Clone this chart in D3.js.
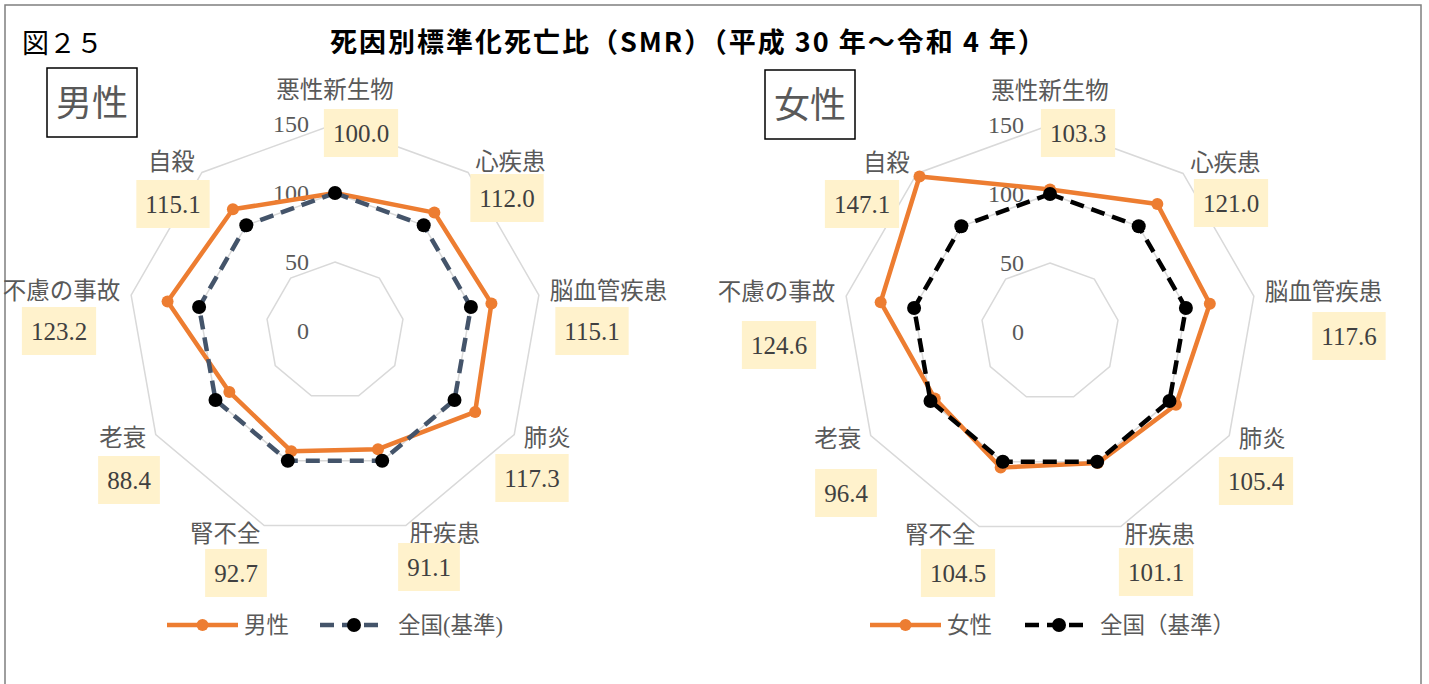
<!DOCTYPE html>
<html lang="ja">
<head>
<meta charset="utf-8">
<script src="https://cdn.jsdelivr.net/npm/d3@7"></script>
<style>
  html, body { margin: 0; padding: 0; background: #fff; }
  svg { display: block; }
</style>
</head>
<body>
<div id="chart"></div>
<script>
// 死因（時計回り、上から）
const categories = ["悪性新生物", "心疾患", "脳血管疾患", "肺炎", "肝疾患", "腎不全", "老衰", "不慮の事故", "自殺"];
const maleValues = [100.0, 112.0, 115.1, 117.3, 91.1, 92.7, 88.4, 123.2, 115.1];
const femaleValues = [103.3, 121.0, 117.6, 105.4, 101.1, 104.5, 96.4, 124.6, 147.1];
const nationalValues = [100, 100, 100, 100, 100, 100, 100, 100, 100];
const ticks = [0, 50, 100, 150];

// ラベル枠の位置（中心からのずれ、レイアウト用）
const maleBoxOffsets = [[26, -198], [172, -133], [257, 0], [197, 147], [94, 236], [-99, 242], [-206, 149], [-276, 0], [-162, -127]];
const femaleBoxOffsets = [[28, -199], [181, -129], [299, 4], [206, 149], [106, 240], [-92, 241], [-204, 161], [-271, 13], [-188, -128]];

const width = 1429, height = 684;
const serif = "'Liberation Serif', 'Noto Sans CJK JP', serif";
const gothic = "'Noto Sans CJK JP', sans-serif";
const gray = "#595959";
const orange = "#ED7D31";

const svg = d3.select("#chart").append("svg")
    .attr("width", width)
    .attr("height", height);

// 外枠
svg.append("rect")
    .attr("x", 5).attr("y", 5)
    .attr("width", 1416).attr("height", 700)
    .attr("fill", "none")
    .attr("stroke", "#7f7f7f")
    .attr("stroke-width", 1.5);

svg.append("text")
    .attr("x", 22).attr("y", 53)
    .attr("font-family", gothic)
    .attr("font-size", 27)
    .attr("fill", "#000")
    .text("図２５");

svg.append("text")
    .attr("x", 330).attr("y", 52)
    .attr("font-family", gothic)
    .attr("font-weight", "bold")
    .attr("font-size", 27)
    .attr("textLength", 715)
    .attr("lengthAdjust", "spacing")
    .attr("fill", "#000")
    .text("死因別標準化死亡比（SMR）（平成 30 年～令和 4 年）");

const r = d3.scaleLinear().domain([0, 150]).range([0, 207]);
const angle = i => i * 2 * Math.PI / categories.length;

function drawRadar(opt) {
    const g = svg.append("g")
        .attr("transform", `translate(${opt.cx},${opt.cy})`);

    // 目盛りの多角形
    const ring = d3.lineRadial()
        .angle((d, i) => angle(i))
        .radius(d => r(d))
        .curve(d3.curveLinearClosed);

    ticks.filter(t => t > 0).forEach(t => {
        g.append("path")
            .attr("d", ring(categories.map(() => t)))
            .attr("fill", "none")
            .attr("stroke", "#d9d9d9")
            .attr("stroke-width", 1.5);
    });

    // 目盛りラベル
    g.selectAll(".tick")
        .data(ticks)
        .enter()
        .append("text")
        .attr("x", -26)
        .attr("y", d => -r(d))
        .attr("dy", "0.35em")
        .attr("text-anchor", "end")
        .attr("font-family", serif)
        .attr("font-size", 24)
        .attr("fill", gray)
        .text(d => d);

    // 系列
    const pointX = (v, i) => r(v) * Math.sin(angle(i));
    const pointY = (v, i) => -r(v) * Math.cos(angle(i));

    const series = [
        { values: opt.values, color: orange, dash: null, marker: orange, mr: 6 },
        { values: nationalValues, color: opt.natColor, dash: "14,8", marker: "#000", mr: 7 }
    ];

    series.forEach(s => {
        g.append("path")
            .attr("d", ring(s.values))
            .attr("fill", "none")
            .attr("stroke", s.color)
            .attr("stroke-width", 4.5)
            .attr("stroke-dasharray", s.dash)
            .attr("stroke-linejoin", "round");

        g.selectAll(null)
            .data(s.values)
            .enter()
            .append("circle")
            .attr("cx", (d, i) => pointX(d, i))
            .attr("cy", (d, i) => pointY(d, i))
            .attr("r", s.mr)
            .attr("fill", s.marker);
    });

    // カテゴリラベル
    const labelR = 218;
    categories.forEach((c, i) => {
        const a = angle(i);
        const sx = Math.sin(a);
        const x = labelR * sx;
        const y = -labelR * Math.cos(a);
        let anchor = "middle";
        if (sx > 0.01) anchor = "start";
        if (sx < -0.01) anchor = "end";
        g.append("text")
            .attr("x", x)
            .attr("y", i === 0 ? y - 23 : y - 2)
            .attr("dy", "0.35em")
            .attr("text-anchor", anchor)
            .attr("font-family", serif)
            .attr("font-size", 23.5)
            .attr("fill", gray)
            .text(c);
    });

    // データラベル（枠付き）
    opt.values.forEach((v, i) => {
        const [bx, by] = opt.boxes[i];
        const lbl = g.append("g").attr("transform", `translate(${bx},${by})`);
        const t = lbl.append("text")
            .attr("text-anchor", "middle")
            .attr("dy", "0.35em")
            .attr("font-family", serif)
            .attr("font-size", 25)
            .attr("fill", "#404040")
            .text(v.toFixed(1));
        const w = t.node().getComputedTextLength() + 18;
        lbl.insert("rect", "text")
            .attr("x", -w / 2).attr("y", -24)
            .attr("width", w).attr("height", 48)
            .attr("fill", "#FFF2CC");
    });

    // 性別の枠
    const bx = opt.cx + opt.tagX;
    svg.append("rect")
        .attr("x", bx).attr("y", opt.tagY)
        .attr("width", 90).attr("height", 69)
        .attr("fill", "none")
        .attr("stroke", "#000")
        .attr("stroke-width", 1.5);
    svg.append("text")
        .attr("x", bx + 45).attr("y", opt.tagY + 35)
        .attr("dy", "0.35em")
        .attr("text-anchor", "middle")
        .attr("font-family", serif)
        .attr("font-size", 36)
        .attr("fill", gray)
        .text(opt.name);

    // 凡例
    const lg = svg.append("g").attr("transform", `translate(${opt.cx},625)`);
    lg.append("line")
        .attr("x1", opt.leg[0]).attr("x2", opt.leg[0] + 71)
        .attr("stroke", orange).attr("stroke-width", 4.5);
    lg.append("circle")
        .attr("cx", opt.leg[0] + 35.5).attr("r", 6).attr("fill", orange);
    lg.append("text")
        .attr("x", opt.leg[0] + 77).attr("dy", "0.35em")
        .attr("font-family", serif).attr("font-size", 22.5).attr("fill", gray)
        .text(opt.name);
    lg.append("line")
        .attr("x1", opt.leg[1]).attr("x2", opt.leg[1] + 66)
        .attr("stroke", opt.natColor).attr("stroke-width", 4.5)
        .attr("stroke-dasharray", "14,8");
    lg.append("circle")
        .attr("cx", opt.leg[1] + 34).attr("r", 7).attr("fill", "#000");
    lg.append("text")
        .attr("x", opt.leg[1] + opt.natTextDx).attr("dy", "0.35em")
        .attr("font-family", serif).attr("font-size", 22.5).attr("fill", gray)
        .text(opt.natLabel);
}

drawRadar({
    cx: 335, cy: 331, values: maleValues, boxes: maleBoxOffsets,
    natColor: "#44546A", name: "男性", natLabel: "全国(基準)",
    tagX: -288, tagY: 68, leg: [-168, -15], natTextDx: 78
});

drawRadar({
    cx: 1050, cy: 332, values: femaleValues, boxes: femaleBoxOffsets,
    natColor: "#000", name: "女性", natLabel: "全国（基準）",
    tagX: -285, tagY: 70, leg: [-180, -25], natTextDx: 75
});
</script>
</body>
</html>
